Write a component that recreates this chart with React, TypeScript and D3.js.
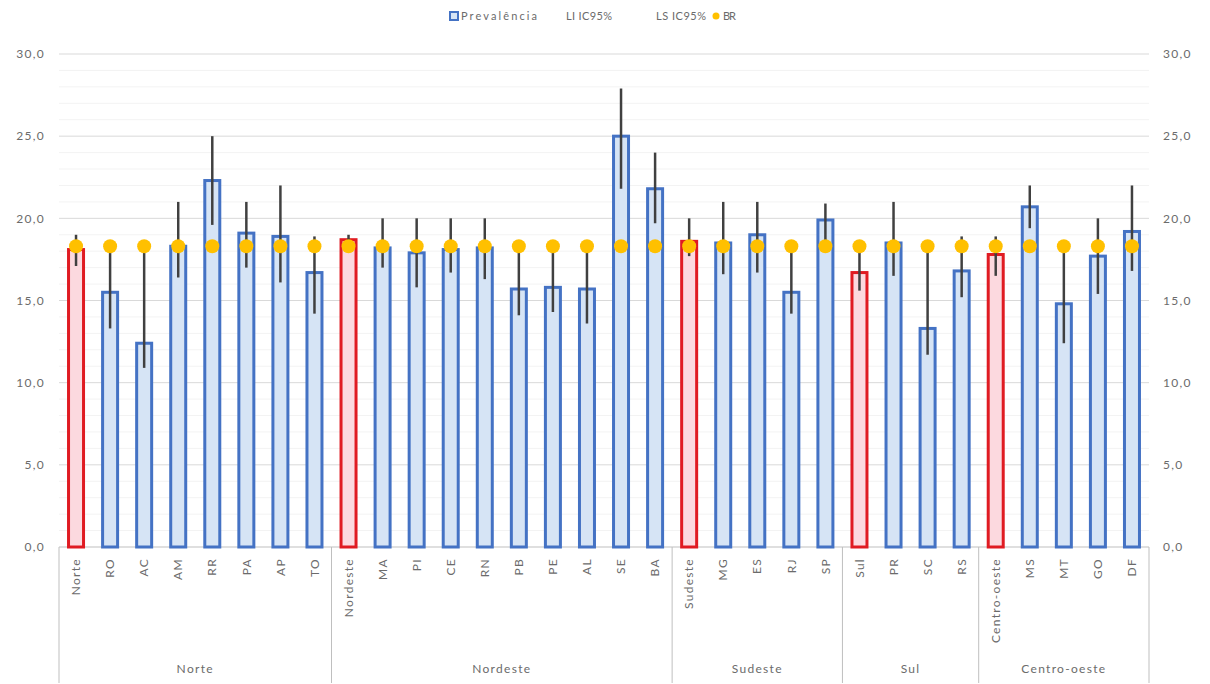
import React from "react";
import * as d3 from "d3";

const categories = ["Norte","RO","AC","AM","RR","PA","AP","TO","Nordeste","MA","PI","CE","RN","PB","PE","AL","SE","BA","Sudeste","MG","ES","RJ","SP","Sul","PR","SC","RS","Centro-oeste","MS","MT","GO","DF"];
const regionFlags = [1,0,0,0,0,0,0,0,1,0,0,0,0,0,0,0,0,0,1,0,0,0,0,1,0,0,0,1,0,0,0,0];
const prevalence = [18.1,15.5,12.4,18.3,22.3,19.1,18.9,16.7,18.7,18.2,17.9,18.1,18.2,15.7,15.8,15.7,25.0,21.8,18.6,18.5,19.0,15.5,19.9,16.7,18.5,13.3,16.8,17.8,20.7,14.8,17.7,19.2];
const lowerCI = [17.1,13.3,10.9,16.4,19.6,17.0,16.1,14.2,18.4,17.0,15.8,16.7,16.3,14.1,14.3,13.6,21.8,19.7,17.7,16.6,16.7,14.2,18.5,15.6,16.5,11.7,15.2,16.5,19.4,12.4,15.4,16.8];
const upperCI = [19.0,17.9,18.0,21.0,25.0,21.0,22.0,18.9,19.0,20.0,20.0,20.0,20.0,18.0,18.0,18.0,27.9,24.0,20.0,21.0,21.0,18.2,20.9,18.0,21.0,18.0,18.9,18.9,22.0,18.0,20.0,22.0];
const brValue = 18.3;
const groups = [
  { name: "Norte", start: 0, count: 8 },
  { name: "Nordeste", start: 8, count: 10 },
  { name: "Sudeste", start: 18, count: 5 },
  { name: "Sul", start: 23, count: 4 },
  { name: "Centro-oeste", start: 27, count: 5 },
];
const yTicks = [0, 5, 10, 15, 20, 25, 30];

const W = 1210, H = 684;
const left = 59, right = 1149, top = 54, bottom = 547;
const font = "Lato, 'Open Sans', 'Liberation Sans', sans-serif";
const textColor = "#6b6b6b";
const ls = 1.3;

export default function App() {
  const x = d3.scaleBand<string>().domain(categories).range([left, right]).paddingInner(0).paddingOuter(0);
  const y = d3.scaleLinear().domain([0, 30]).range([bottom, top]);
  const bw = 15;
  const fmt = (v: number) => v.toFixed(1).replace(".", ",");
  const minor = d3.range(1, 30).filter((v) => v % 5 !== 0);

  return (
    <svg width={W} height={H} style={{ position: "absolute", left: 0, top: 0, background: "#fff" }} fontFamily={font}>
      {minor.map((v) => (
        <line key={"m" + v} x1={left} x2={right} y1={y(v)} y2={y(v)} stroke="#f3f3f3" strokeWidth={1} />
      ))}
      {yTicks.map((v) => (
        <g key={"t" + v}>
          <line x1={left} x2={right} y1={y(v)} y2={y(v)} stroke={v === 0 ? "#bfbfbf" : "#d9d9d9"} strokeWidth={1} />
          <text x={45} y={y(v)} dy="0.35em" textAnchor="end" fontSize={12} letterSpacing={ls} fill={textColor}>{fmt(v)}</text>
          <text x={1163} y={y(v)} dy="0.35em" textAnchor="start" fontSize={12} letterSpacing={ls} fill={textColor}>{fmt(v)}</text>
        </g>
      ))}
      {categories.map((c, i) => {
        const cx = (x(c) as number) + x.bandwidth() / 2;
        const red = regionFlags[i] === 1;
        return (
          <rect key={"b" + c} x={cx - bw / 2} y={y(prevalence[i])} width={bw} height={bottom - y(prevalence[i])}
            fill={red ? "#fcd9df" : "#d6e4f5"} stroke={red ? "#e01b22" : "#4472c4"} strokeWidth={3} />
        );
      })}
      {categories.map((c, i) => {
        const cx = (x(c) as number) + x.bandwidth() / 2;
        return (
          <line key={"e" + c} x1={cx} x2={cx} y1={y(upperCI[i])} y2={y(lowerCI[i])} stroke="#404040" strokeWidth={2.5} />
        );
      })}
      {categories.map((c) => {
        const cx = (x(c) as number) + x.bandwidth() / 2;
        return <circle key={"d" + c} cx={cx} cy={y(brValue)} r={7} fill="#ffc000" />;
      })}
      {categories.map((c) => {
        const cx = (x(c) as number) + x.bandwidth() / 2;
        return (
          <text key={"l" + c} transform={`translate(${cx},${bottom + 11}) rotate(-90)`} textAnchor="end" dy="0.35em" fontSize={12} letterSpacing={ls} fill={textColor}>{c}</text>
        );
      })}
      {[0, ...groups.map((g) => g.start + g.count)].map((idx) => {
        const xx = idx < categories.length ? (x(categories[idx]) as number) : right;
        return <line key={"s" + idx} x1={xx} x2={xx} y1={bottom} y2={683} stroke="#bfbfbf" strokeWidth={1} />;
      })}
      {groups.map((g) => {
        const x0 = x(categories[g.start]) as number;
        const x1 = x0 + g.count * x.bandwidth();
        return (
          <text key={"g" + g.name} x={(x0 + x1) / 2} y={673} textAnchor="middle" fontSize={12} letterSpacing={ls} fill={textColor}>{g.name}</text>
        );
      })}
      <g fontSize={11} fill={textColor}>
        <rect x={450} y={12} width={8} height={8} fill="#d6e4f5" stroke="#4472c4" strokeWidth={2} />
        <text x={461} y={16} dy="0.35em" textLength={76} lengthAdjust="spacing">Prevalência</text>
        <text x={566} y={16} dy="0.35em" textLength={46} lengthAdjust="spacing">LI IC95%</text>
        <text x={656} y={16} dy="0.35em" textLength={50} lengthAdjust="spacing">LS IC95%</text>
        <circle cx={716} cy={16} r={3.5} fill="#ffc000" />
        <text x={723} y={16} dy="0.35em" textLength={13} lengthAdjust="spacing">BR</text>
      </g>
    </svg>
  );
}
